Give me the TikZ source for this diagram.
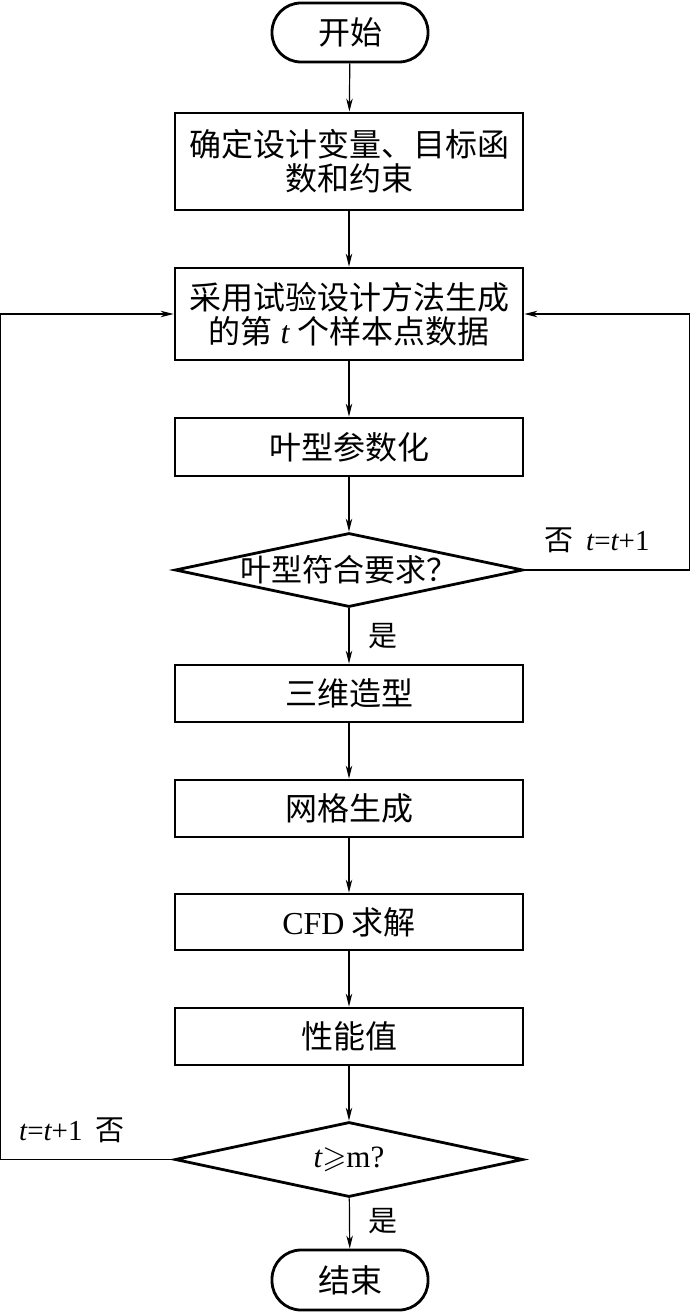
\documentclass[tikz,border=0pt]{standalone}
\usepackage{amssymb}
\usepackage{fontspec}
\setmainfont{Liberation Serif}
\newfontfamily\cjk{Noto Sans CJK SC}
\usetikzlibrary{shapes.geometric,arrows.meta}
\begin{document}
\begin{tikzpicture}[x=1pt,y=-1pt,
  box/.style={draw, line width=2.8pt, minimum width=348pt, inner sep=0pt, align=center,
    font=\fontsize{32}{34}\selectfont\cjk},
  term/.style={draw, line width=2.8pt, rounded corners=29pt, minimum width=156pt, minimum height=59pt,
    inner sep=0pt, font=\fontsize{32}{34}\selectfont\cjk},
  dec/.style={draw, diamond, line width=2.8pt, minimum width=348pt, inner sep=0pt,
    font=\fontsize{31}{34}\selectfont\cjk},
  flow/.style={line width=1.2pt, -{Stealth[length=13pt, width=6.5pt, inset=4pt]}},
  lbl/.style={inner sep=0pt, font=\fontsize{29}{32}\selectfont\cjk}
]
\useasboundingbox (0,0) rectangle (690,1313);
\node[term] (start) at (350,32.5) {开始};
\node[box, minimum height=97pt] (b1) at (349,161.5) {确定设计变量、目标函\\数和约束};
\node[box, minimum height=92pt] (b2) at (349,314) {采用试验设计方法生成\\的第{\rmfamily\itshape\ t\ }个样本点数据};
\node[box, minimum height=58pt] (b3) at (349,447) {叶型参数化};
\node[dec, minimum height=74pt] (d1) at (349,570) {\makebox[0pt]{叶型符合要求？}};
\node[box, minimum height=57pt] (b4) at (349,693.5) {三维造型};
\node[box, minimum height=57pt] (b5) at (349,808.5) {网格生成};
\node[box, minimum height=56pt] (b6) at (349,922) {{\rmfamily CFD} 求解};
\node[box, minimum height=57pt] (b7) at (349,1036.5) {性能值};
\node[dec, minimum height=75pt] (d2) at (349,1159.5) {\makebox[0pt]{\rmfamily\itshape t$\geqslant$\upshape m?}};
\node[term, minimum height=60pt] (end) at (350,1280) {结束};

\draw[flow] (start) -- (b1);
\draw[flow] (b1) -- (b2);
\draw[flow] (b2) -- (b3);
\draw[flow] (b3) -- (d1);
\draw[flow] (d1) -- (b4);
\draw[flow] (b4) -- (b5);
\draw[flow] (b5) -- (b6);
\draw[flow] (b6) -- (b7);
\draw[flow] (b7) -- (d2);
\draw[flow] (d2) -- (end);
\draw[flow] (d1.east) -- ++(165,0) |- (b2.east);
\draw[flow] (d2.west) -- ++(-173,0) |- (b2.west);

\node[lbl] (y1) at (383,636) {是};
\node[lbl] (y2) at (383,1221) {是};
\node[lbl, anchor=west] (n1) at (544,540) {否\ \ {\rmfamily\itshape t}{\rmfamily=}{\rmfamily\itshape t}{\rmfamily+1}};
\node[lbl, anchor=west] (n2) at (19,1130) {{\rmfamily\itshape t}{\rmfamily=}{\rmfamily\itshape t}{\rmfamily+1}\ \ 否};
\end{tikzpicture}
\end{document}
